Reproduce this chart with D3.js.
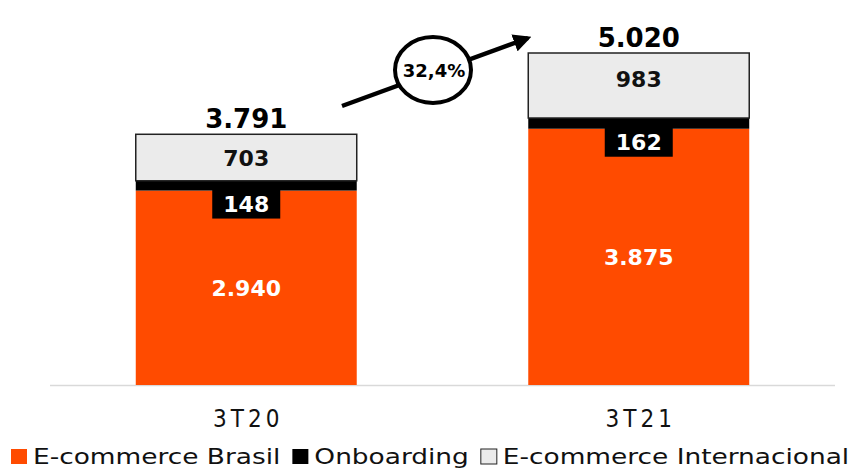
<!DOCTYPE html>
<html>
<head>
<meta charset="utf-8">
<script src="https://cdn.jsdelivr.net/npm/d3@7"></script>
<style>
  body { margin: 0; background: #fff; }
  svg { display: block; font-family: "DejaVu Sans", Verdana, sans-serif; }
</style>
</head>
<body>
<svg id="chart"></svg>
<script>
// data
const categories = ["3T20", "3T21"];
const seriesNames = ["E-commerce Brasil", "Onboarding", "E-commerce Internacional"];
const brasil = [2940, 3875];
const onboarding = [148, 162];
const internacional = [703, 983];
const totals = ["3.791", "5.020"];
const valueLabels = [["2.940", "148", "703"], ["3.875", "162", "983"]];
const growthLabel = "32,4%";

const colors = ["#ff4b00", "#000000", "#ebebeb"];

const width = 866, height = 471;
const margin = { top: 20, right: 31, bottom: 86, left: 50 };

const svg = d3.select("#chart").attr("width", width).attr("height", height);

const rows = categories.map((c, i) => ({
    cat: c, "E-commerce Brasil": brasil[i], "Onboarding": onboarding[i], "E-commerce Internacional": internacional[i]
}));
const stacked = d3.stack().keys(seriesNames)(rows);

const x = d3.scaleBand().domain(categories).range([margin.left, width - margin.right]).paddingInner(0.437).paddingOuter(0.2185);
const y = d3.scaleLinear().domain([0, 5020]).range([385, 53]);

// axis line
svg.append("line")
    .attr("x1", margin.left).attr("x2", width - margin.right)
    .attr("y1", y(0) + 0.5).attr("y2", y(0) + 0.5)
    .attr("stroke", "#d9d9d9").attr("stroke-width", 1.5);

// bars
svg.append("g").selectAll("g")
    .data(stacked)
    .join("g")
    .attr("fill", (d, i) => colors[i])
    .selectAll("rect")
    .data(d => d.map(v => Object.assign(v, { key: d.key })))
    .join("rect")
    .attr("x", d => x(d.data.cat))
    .attr("width", x.bandwidth())
    .attr("y", d => y(d[1]))
    .attr("height", d => y(d[0]) - y(d[1]))
    .attr("stroke", d => d.key === "E-commerce Internacional" ? "#222" : "none")
    .attr("stroke-width", 1.5);

// value labels
categories.forEach((c, i) => {
    const cx = x(c) + x.bandwidth() / 2;
    // brasil label
    svg.append("text")
        .attr("x", cx).attr("y", y(brasil[i] / 2) + 8)
        .attr("text-anchor", "middle")
        .attr("fill", "#fff").attr("font-weight", "bold").attr("font-size", 22)
        .text(valueLabels[i][0]);
    // onboarding label with black box
    const ob = y(brasil[i]);
    svg.append("rect")
        .attr("x", cx - 34).attr("y", ob - 1)
        .attr("width", 68).attr("height", 29)
        .attr("fill", "#000");
    svg.append("text")
        .attr("x", cx).attr("y", ob + 21)
        .attr("text-anchor", "middle")
        .attr("fill", "#fff").attr("font-weight", "bold").attr("font-size", 22)
        .text(valueLabels[i][1]);
    // internacional label
    const top = y(brasil[i] + onboarding[i] + internacional[i]);
    const mid = (top + y(brasil[i] + onboarding[i])) / 2;
    svg.append("text")
        .attr("x", cx).attr("y", Math.min(mid, top + 26) + 8)
        .attr("text-anchor", "middle")
        .attr("fill", "#111").attr("font-weight", "bold").attr("font-size", 22)
        .text(valueLabels[i][2]);
    // total
    svg.append("text")
        .attr("x", cx).attr("y", top - 6)
        .attr("text-anchor", "middle")
        .attr("fill", "#000").attr("font-weight", "bold").attr("font-size", 26)
        .text(totals[i]);
    // category label
    svg.append("text")
        .attr("x", cx + 2).attr("y", 427)
        .attr("text-anchor", "middle")
        .attr("fill", "#111").attr("font-size", 24)
        .attr("font-family", "'DejaVu Sans Condensed', 'DejaVu Sans', sans-serif")
        .attr("letter-spacing", 4)
        .text(c);
});

// growth arrow
const defs = svg.append("defs");
defs.append("marker")
    .attr("id", "arrow").attr("viewBox", "0 0 10 10")
    .attr("refX", 8).attr("refY", 5)
    .attr("markerWidth", 4).attr("markerHeight", 4)
    .attr("orient", "auto")
    .append("path").attr("d", "M0,0 L10,5 L0,10 z").attr("fill", "#000");

svg.append("line")
    .attr("x1", 342).attr("y1", 106).attr("x2", 528).attr("y2", 38)
    .attr("stroke", "#000").attr("stroke-width", 4.5)
    .attr("marker-end", "url(#arrow)");

svg.append("ellipse")
    .attr("cx", 433).attr("cy", 70).attr("rx", 38).attr("ry", 33)
    .attr("fill", "#fff").attr("stroke", "#000").attr("stroke-width", 4);
svg.append("text")
    .attr("x", 434).attr("y", 77)
    .attr("text-anchor", "middle")
    .attr("font-weight", "bold").attr("font-size", 18)
    .text(growthLabel);

// legend (text is wide in the reference, so stretch it horizontally)
const legend = svg.append("g").attr("transform", "translate(11, 464)");
let lx = 0;
seriesNames.forEach((name, i) => {
    const g = legend.append("g").attr("transform", `translate(${lx},0)`);
    g.append("rect")
        .attr("x", 0).attr("y", -15).attr("width", 16).attr("height", 15)
        .attr("fill", colors[i])
        .attr("stroke", i === 2 ? "#222" : "none");
    const t = g.append("text")
        .attr("transform", "translate(22,0) scale(1.2,1)")
        .attr("font-size", 22).attr("fill", "#111")
        .text(name);
    lx += 22 + t.node().getComputedTextLength() * 1.2 + 12;
});
</script>
</body>
</html>
